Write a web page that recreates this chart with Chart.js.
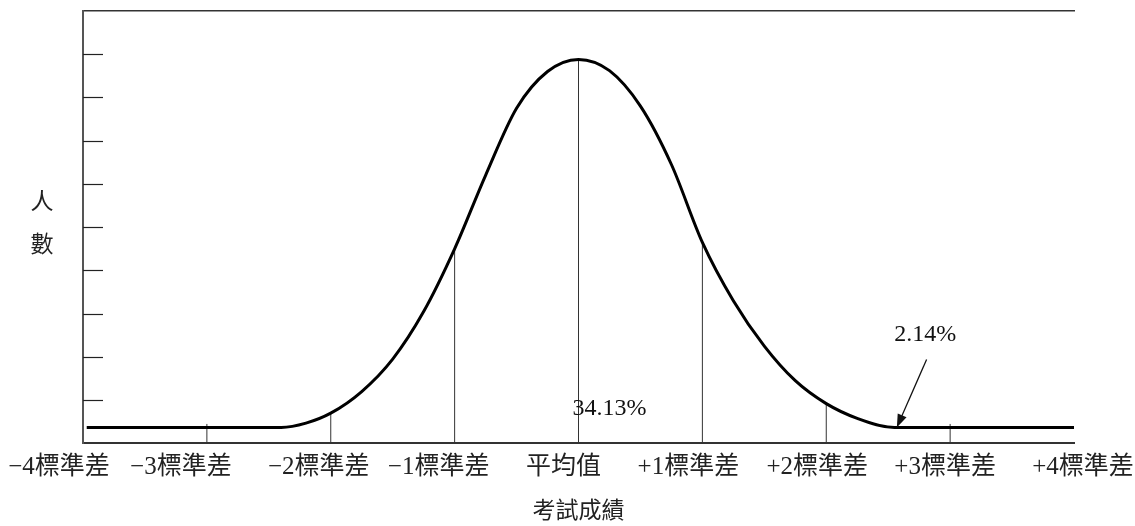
<!DOCTYPE html>
<html>
<head>
<meta charset="utf-8">
<script src="https://cdn.jsdelivr.net/npm/chart.js@4.4.1/dist/chart.umd.min.js"></script>
<style>
  html, body { margin: 0; padding: 0; background: #fff; }
  #wrap { width: 1135px; height: 526px; }
</style>
</head>
<body>
<div id="wrap"><canvas id="bellChart"></canvas></div>
<script>
// Data (x in standard deviations, y in arbitrary count units)
const sdTicks = [-4, -3, -2, -1, 0, 1, 2, 3, 4];
const tickLabels = ['−4標準差', '−3標準差', '−2標準差', '−1標準差', '平均值', '+1標準差', '+2標準差', '+3標準差', '+4標準差'];
const curveX = [-3.97, -3, -2.4, -2.2, -2.0, -1.75, -1.5, -1.25, -1.0, -0.75, -0.5, -0.25, 0, 0.25, 0.5, 0.75, 1.0, 1.25, 1.5, 1.75, 2.0, 2.25, 2.55, 3, 4];
const curveY = [0.37, 0.37, 0.37, 0.47, 0.7, 1.2, 1.95, 3.05, 4.5, 6.2, 7.75, 8.6, 8.88, 8.62, 7.8, 6.45, 4.65, 3.3, 2.25, 1.45, 0.92, 0.58, 0.37, 0.37, 0.37];
const dropX = [-3, -2, -1, 0, 1, 2, 3];
const dropY = [0.45, 0.72, 4.5, 8.88, 4.65, 0.94, 0.45];
const yTickValues = [1, 2, 3, 4, 5, 6, 7, 8, 9];
const yTitle = ['人', '數'];
const xTitle = '考試成績';
const notes = [
  { text: '34.13%', x: 0.25, y: 0.81 },
  { text: '2.14%', x: 2.8, y: 2.52 }
];
const arrowFrom = { x: 2.81, y: 1.94 };
const arrowTo = { x: 2.57, y: 0.37 };

// the labels in the picture sit a little off their ticks
const labelNudge = [-24, -26, -12, -16, -15, -14, -9, -5, 9];

const curvePoints = curveX.map((x, i) => ({ x: x, y: curveY[i] }));

// one thin vertical line per standard deviation, from the axis up to the curve
const dropSets = dropX.map((x, i) => ({
  data: [{ x: x, y: 0 }, { x: x, y: dropY[i] }],
  borderColor: '#333',
  borderWidth: 1,
  pointRadius: 0,
  tension: 0
}));

// y tick marks pointing into the plot, tick labels, y title and the notes
const extras = {
  id: 'extras',
  afterDraw(chart) {
    const { ctx, scales } = chart;
    const xs = scales.x, ys = scales.y;
    const area = chart.chartArea;
    ctx.save();

    ctx.strokeStyle = '#222';
    ctx.lineWidth = 1.2;
    yTickValues.forEach(v => {
      const py = Math.round(ys.getPixelForValue(v)) + 0.5;
      ctx.beginPath();
      ctx.moveTo(area.left, py);
      ctx.lineTo(area.left + 20, py);
      ctx.stroke();
    });

    ctx.fillStyle = '#222';
    ctx.textAlign = 'center';
    ctx.textBaseline = 'middle';
    ctx.font = '25px "Liberation Serif", "Noto Sans CJK TC", serif';
    sdTicks.forEach((v, i) => {
      ctx.fillText(tickLabels[i], xs.getPixelForValue(v) + labelNudge[i], area.bottom + 24);
    });

    ctx.font = '23px "Noto Sans CJK TC", sans-serif';
    const midY = (area.top + area.bottom) / 2;
    ctx.fillText(yTitle[0], 42, midY - 27);
    ctx.fillText(yTitle[1], 42, midY + 16);

    ctx.font = '24px "Liberation Serif", serif';
    ctx.fillStyle = '#111';
    notes.forEach(n => {
      ctx.fillText(n.text, xs.getPixelForValue(n.x), ys.getPixelForValue(n.y));
    });

    // arrow to the tail of the curve
    const x1 = xs.getPixelForValue(arrowFrom.x), y1 = ys.getPixelForValue(arrowFrom.y);
    const x2 = xs.getPixelForValue(arrowTo.x), y2 = ys.getPixelForValue(arrowTo.y);
    const ang = Math.atan2(y2 - y1, x2 - x1);
    ctx.strokeStyle = '#111';
    ctx.lineWidth = 1.3;
    ctx.beginPath();
    ctx.moveTo(x1, y1);
    ctx.lineTo(x2 - 8 * Math.cos(ang), y2 - 8 * Math.sin(ang));
    ctx.stroke();
    ctx.beginPath();
    ctx.moveTo(x2, y2);
    ctx.lineTo(x2 - 14 * Math.cos(ang - 0.35), y2 - 14 * Math.sin(ang - 0.35));
    ctx.lineTo(x2 - 14 * Math.cos(ang + 0.35), y2 - 14 * Math.sin(ang + 0.35));
    ctx.closePath();
    ctx.fill();

    ctx.restore();
  }
};

const chart = new Chart(document.getElementById('bellChart'), {
  type: 'line',
  data: {
    datasets: [{
      data: curvePoints,
      borderColor: '#000',
      borderWidth: 3,
      pointRadius: 0,
      cubicInterpolationMode: 'monotone'
    }].concat(dropSets)
  },
  options: {
    responsive: true,
    maintainAspectRatio: false,
    animation: false,
    events: [],
    layout: { padding: { left: 83, right: 61, top: 11, bottom: 3 } },
    plugins: { legend: { display: false }, tooltip: { enabled: false } },
    scales: {
      x: {
        type: 'linear',
        min: -4,
        max: 4,
        grid: { display: false, drawTicks: false },
        border: { display: true, color: '#333', width: 2 },
        ticks: { display: false },
        title: {
          display: true,
          text: xTitle,
          color: '#222',
          font: { family: '"Noto Sans CJK TC", sans-serif', size: 23 },
          padding: { top: 52, bottom: 0 }
        }
      },
      top: {
        type: 'linear',
        position: 'top',
        min: -4,
        max: 4,
        grid: { display: false, drawTicks: false },
        border: { display: true, color: '#333', width: 1.5 },
        ticks: { display: false }
      },
      y: {
        min: 0,
        max: 10,
        grid: { display: false, drawTicks: false },
        border: { display: true, color: '#555', width: 2 },
        ticks: { display: false, stepSize: 1 }
      }
    }
  },
  plugins: [extras]
});
</script>
</body>
</html>
